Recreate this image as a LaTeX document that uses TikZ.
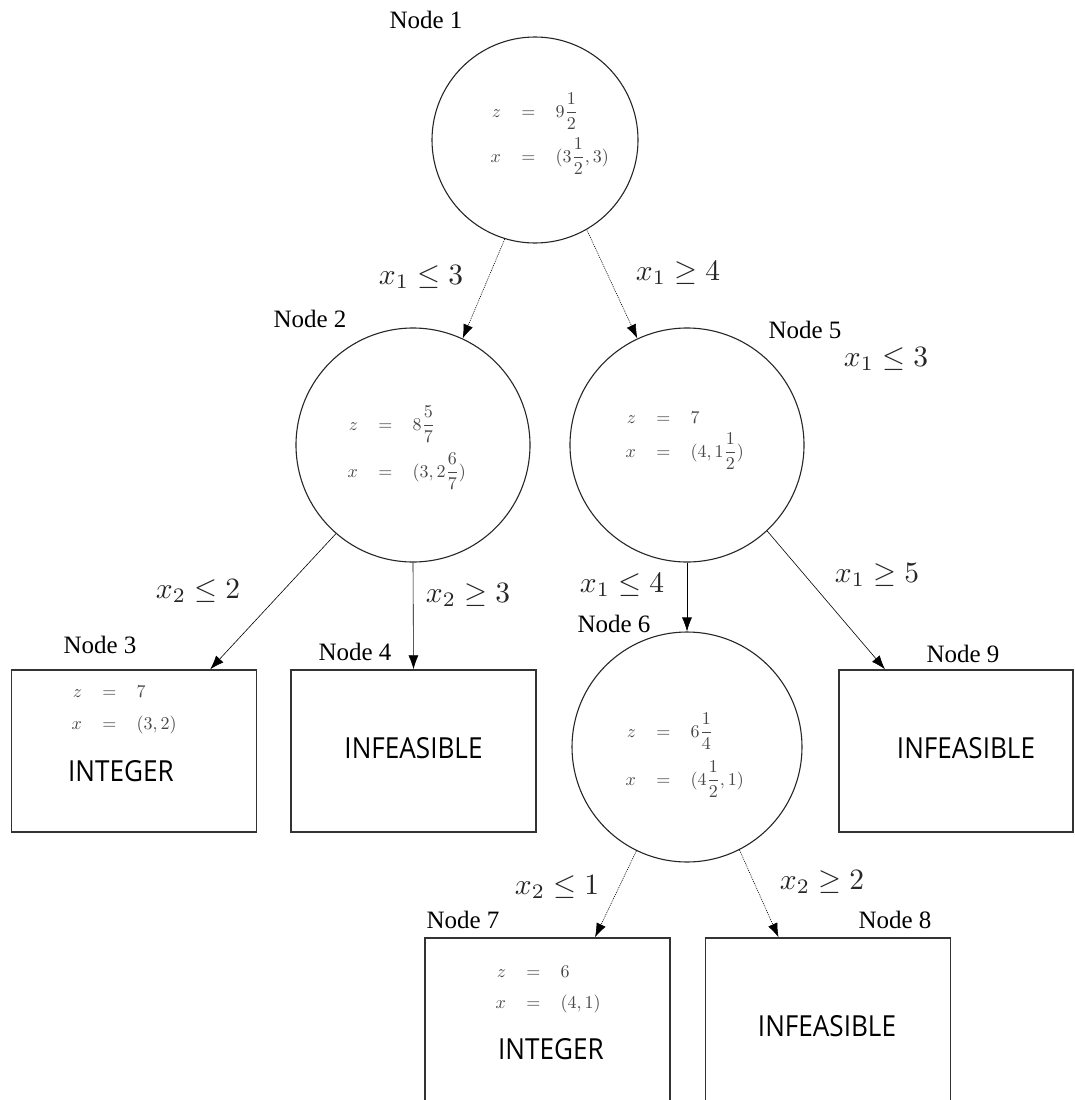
\RequirePackage{fix-cm}
\documentclass[tikz,border=0pt]{standalone}
\usepackage{fontspec}
\usetikzlibrary{arrows.meta}
\newfontfamily\nodefont{Liberation Serif}
\newfontfamily\tagfont[FakeStretch=0.9]{Open Sans}

% one line of an LP result: left side, "=", right side (10pt design, enlarged)
\newcommand{\lpval}[2]{\scalebox{1.8}{\fontsize{10}{12}\selectfont$\displaystyle\makebox[0.6em][r]{$#1$}\hspace{0.85em}=\hspace{0.85em}#2$}}
% a branching constraint (10pt design, enlarged)
\newcommand{\cut}[1]{\scalebox{2.95}{\fontsize{10}{12}\selectfont$#1$}}

\tikzset{
  bbnode/.style={circle, draw=black!85, line width=1.1pt, minimum size=#1, inner sep=0pt},
  leafbox/.style={rectangle, draw=black!80, line width=1.4pt, minimum width=245pt, minimum height=#1, inner sep=0pt},
  lpline/.style={anchor=base west, inner sep=0pt, text=black!72},
  status/.style={anchor=base west, inner sep=0pt, text=black, font=\tagfont\fontsize{29}{34}\selectfont},
  nodetag/.style={anchor=base, inner sep=0pt, text=black, font=\nodefont\fontsize{25}{30}\selectfont},
  branch/.style={inner sep=0pt, text=black!85},
  arc/.style={line width=0.6pt, -{Latex[length=14pt,width=10pt]}},
  dotarc/.style={arc, dash pattern=on 1pt off 1pt},
}

\begin{document}
\begin{tikzpicture}[x=1pt, y=-1pt]
\useasboundingbox (0,0) rectangle (1075,1100);
\clip (0,0) rectangle (1075,1100);

% subproblems solved as LPs
\node[bbnode=206pt] (n1) at (535,140) {};
\node[bbnode=234pt] (n2) at (413,445) {};
\node[bbnode=234pt] (n5) at (687,445) {};
\node[bbnode=230pt] (n6) at (687,747) {};

% pruned / integer leaves
\node[leafbox=162pt] (n3) at (134,751) {};
\node[leafbox=162pt] (n4) at (413.5,751) {};
\node[leafbox=162pt, minimum width=234pt] (n9) at (956,751) {};
\node[leafbox=170pt] (n7) at (547.5,1023) {};
\node[leafbox=170pt] (n8) at (828,1023) {};

% node captions
\node[nodetag] (t1) at (426,28) {Node 1};
\node[nodetag] (t2) at (310,327) {Node 2};
\node[nodetag] (t3) at (100,653) {Node 3};
\node[nodetag] (t4) at (355,660) {Node 4};
\node[nodetag] (t5) at (805,338) {Node 5};
\node[nodetag] (t6) at (614,632) {Node 6};
\node[nodetag] (t7) at (463,928) {Node 7};
\node[nodetag] (t8) at (895,928) {Node 8};
\node[nodetag] (t9) at (963,662) {Node 9};

% LP values
\node[lpline] (v1z) at (490,117) {\lpval{z}{9\frac{1}{2}}};
\node[lpline] (v1x) at (490,162) {\lpval{x}{(3\frac{1}{2},3)}};
\node[lpline] (v2z) at (347,430) {\lpval{z}{8\frac{5}{7}}};
\node[lpline] (v2x) at (347,477) {\lpval{x}{(3,2\frac{6}{7})}};
\node[lpline] (v5z) at (625,423) {\lpval{z}{7}};
\node[lpline] (v5x) at (625,457) {\lpval{x}{(4,1\frac{1}{2})}};
\node[lpline] (v6z) at (625,737) {\lpval{z}{6\frac{1}{4}}};
\node[lpline] (v6x) at (625,785) {\lpval{x}{(4\frac{1}{2},1)}};
\node[lpline] (v3z) at (71,697) {\lpval{z}{7}};
\node[lpline] (v3x) at (71,729) {\lpval{x}{(3,2)}};
\node[lpline] (v7z) at (495,977) {\lpval{z}{6}};
\node[lpline] (v7x) at (495,1008) {\lpval{x}{(4,1)}};

% leaf status
\node[status] (s3) at (68,781) {INTEGER};
\node[status] (s7) at (498,1059) {INTEGER};
\node[status, anchor=base] (s4) at (413.5,758) {INFEASIBLE};
\node[status, anchor=base] (s9) at (966,758) {INFEASIBLE};
\node[status, anchor=base] (s8) at (827,1036) {INFEASIBLE};

% branching arcs
\draw[dotarc] (n1.253) -- (n2.65);
\draw[dotarc] (n1.300) -- (n5.115);
\draw[arc] (n2.229) -- (n3.47);
\draw[arc] (n2.south) -- (n4.north);
\draw[arc] (n5.south) -- (n6.north);
\draw[arc] (n5.313) -- (n9.131);
\draw[dotarc] (n6.244) -- (n7.61);
\draw[dotarc] (n6.297) -- (n8.120);

% branching constraints
\node[branch] (b12) at (421,277) {\cut{x_1 \leq 3}};
\node[branch] (b15) at (678,273) {\cut{x_1 \geq 4}};
\node[branch] (b5x) at (886,359) {\cut{x_1 \leq 3}};
\node[branch] (b23) at (198,591) {\cut{x_2 \leq 2}};
\node[branch] (b24) at (468,595) {\cut{x_2 \geq 3}};
\node[branch] (b56) at (622,585) {\cut{x_1 \leq 4}};
\node[branch] (b59) at (877,575) {\cut{x_1 \geq 5}};
\node[branch] (b67) at (557,887) {\cut{x_2 \leq 1}};
\node[branch] (b68) at (822,882) {\cut{x_2 \geq 2}};
\end{tikzpicture}
\end{document}
